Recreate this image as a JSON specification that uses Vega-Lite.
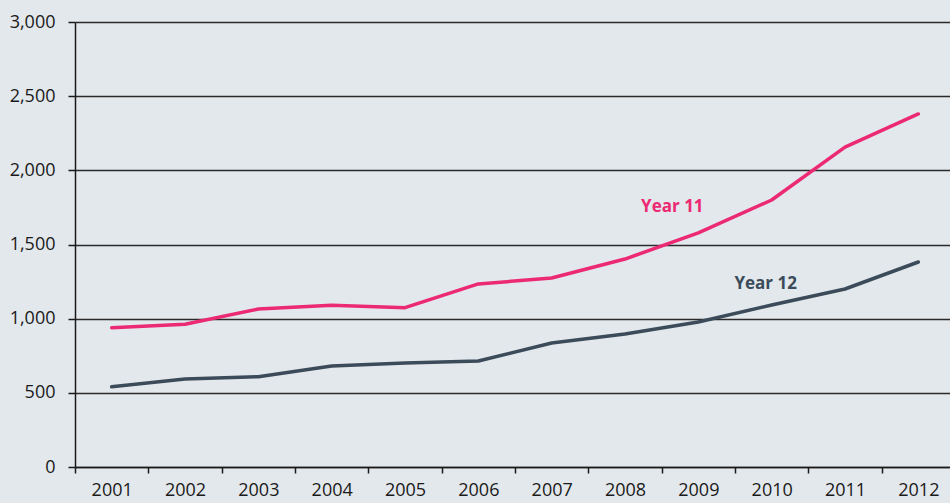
{
  "$schema": "https://vega.github.io/schema/vega-lite/v6.json",
  "autosize": "none",
  "width": 880,
  "height": 445,
  "padding": {"left": 75, "top": 22, "right": 0, "bottom": 36},
  "background": "#e3e8ec",
  "config": {
    "view": {"stroke": null},
    "font": "Open Sans"
  },
  "datasets": {
    "series": [
      {"year": "2001", "series": "Year 11", "value": 939},
      {"year": "2002", "series": "Year 11", "value": 962},
      {"year": "2003", "series": "Year 11", "value": 1065},
      {"year": "2004", "series": "Year 11", "value": 1090},
      {"year": "2005", "series": "Year 11", "value": 1074},
      {"year": "2006", "series": "Year 11", "value": 1234},
      {"year": "2007", "series": "Year 11", "value": 1274},
      {"year": "2008", "series": "Year 11", "value": 1402},
      {"year": "2009", "series": "Year 11", "value": 1578},
      {"year": "2010", "series": "Year 11", "value": 1800},
      {"year": "2011", "series": "Year 11", "value": 2157},
      {"year": "2012", "series": "Year 11", "value": 2380},
      {"year": "2001", "series": "Year 12", "value": 541},
      {"year": "2002", "series": "Year 12", "value": 593},
      {"year": "2003", "series": "Year 12", "value": 609},
      {"year": "2004", "series": "Year 12", "value": 681},
      {"year": "2005", "series": "Year 12", "value": 701},
      {"year": "2006", "series": "Year 12", "value": 715},
      {"year": "2007", "series": "Year 12", "value": 836},
      {"year": "2008", "series": "Year 12", "value": 897},
      {"year": "2009", "series": "Year 12", "value": 978},
      {"year": "2010", "series": "Year 12", "value": 1092},
      {"year": "2011", "series": "Year 12", "value": 1200},
      {"year": "2012", "series": "Year 12", "value": 1382}
    ],
    "labels": [
      {"year": "2009", "series": "Year 11", "value": 1753, "label": "Year 11"},
      {"year": "2010", "series": "Year 12", "value": 1234, "label": "Year 12"}
    ]
  },
  "layer": [
    {
      "data": {"name": "series"},
      "mark": {"type": "line", "strokeWidth": 3.5, "strokeCap": "round", "strokeJoin": "round"},
      "encoding": {
        "x": {
          "field": "year", "type": "ordinal", "title": null,
          "scale": {"paddingInner": 0, "paddingOuter": 0},
          "axis": {
            "labelAngle": 0, "labelFontSize": 18, "labelColor": "#1a1a1a",
            "labelPadding": 8,
            "tickBand": "extent", "tickColor": "#1a1a1a", "tickSize": 6, "tickWidth": 1.5,
            "domainColor": "#1a1a1a", "domainWidth": 1.5,
            "grid": false
          }
        },
        "y": {
          "field": "value", "type": "quantitative", "title": null,
          "scale": {"domain": [0, 3000], "nice": false},
          "axis": {
            "values": [0, 500, 1000, 1500, 2000, 2500, 3000],
            "format": ",d",
            "labelFontSize": 18, "labelColor": "#1a1a1a", "labelPadding": 13,
            "tickColor": "#1a1a1a", "tickSize": 7, "tickWidth": 1.5,
            "domainColor": "#1a1a1a", "domainWidth": 1.5,
            "grid": true, "gridColor": "#2a2a2a", "gridWidth": 1.3, "gridOpacity": 1
          }
        },
        "color": {
          "field": "series", "type": "nominal", "legend": null,
          "scale": {"domain": ["Year 11", "Year 12"], "range": ["#ec2a73", "#3b4b5a"]}
        }
      }
    },
    {
      "data": {"name": "labels"},
      "transform": [{"filter": "datum.series === 'Year 11'"}],
      "mark": {"type": "text", "fontSize": 17, "fontWeight": "bold", "align": "center", "baseline": "middle", "dx": -26},
      "encoding": {
        "x": {"field": "year", "type": "ordinal"},
        "y": {"field": "value", "type": "quantitative"},
        "text": {"field": "label"},
        "color": {"field": "series", "type": "nominal", "legend": null}
      }
    },
    {
      "data": {"name": "labels"},
      "transform": [{"filter": "datum.series === 'Year 12'"}],
      "mark": {"type": "text", "fontSize": 17, "fontWeight": "bold", "align": "center", "baseline": "middle", "dx": -6},
      "encoding": {
        "x": {"field": "year", "type": "ordinal"},
        "y": {"field": "value", "type": "quantitative"},
        "text": {"field": "label"},
        "color": {"field": "series", "type": "nominal", "legend": null}
      }
    }
  ]
}
